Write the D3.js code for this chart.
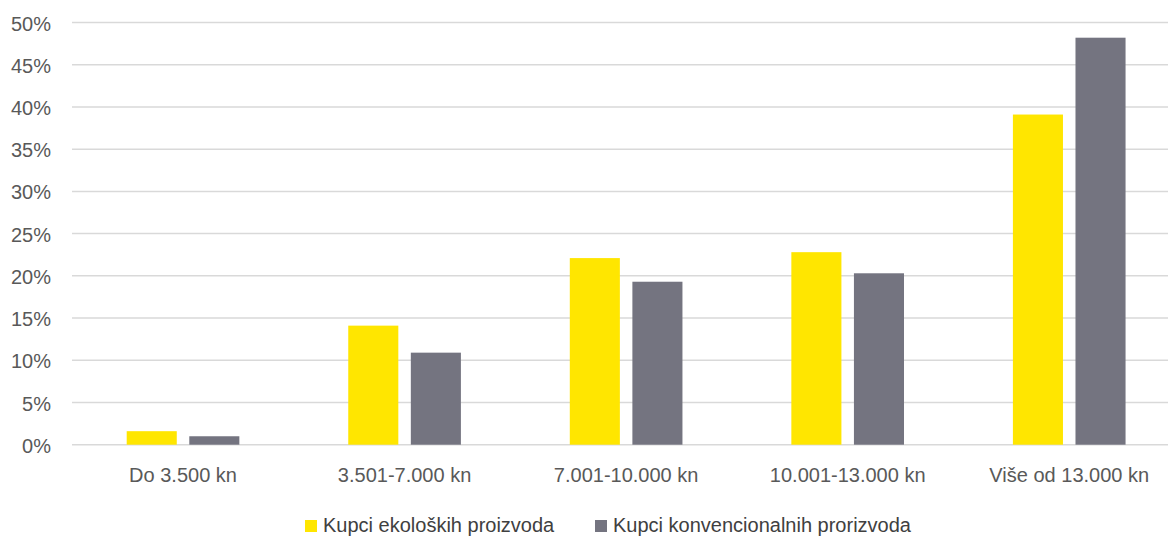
<!DOCTYPE html>
<html>
<head>
<meta charset="utf-8">
<script src="https://cdn.jsdelivr.net/npm/d3@7"></script>
<style>
  html, body { margin: 0; padding: 0; background: #ffffff; }
  svg { display: block; }
</style>
</head>
<body>
<svg id="chart" width="1168" height="536"></svg>
<script>
const categories = ["Do 3.500 kn", "3.501-7.000 kn", "7.001-10.000 kn", "10.001-13.000 kn", "Više od 13.000 kn"];
const seriesNames = ["Kupci ekoloških proizvoda", "Kupci konvencionalnih prorizvoda"];
const ekoloski = [0.016, 0.141, 0.221, 0.228, 0.391];
const konvencionalni = [0.010, 0.109, 0.193, 0.203, 0.482];
const yTicks = [0, 0.05, 0.10, 0.15, 0.20, 0.25, 0.30, 0.35, 0.40, 0.45, 0.50];
const colors = ["#FFE600", "#747480"];

const svg = d3.select("#chart");
const font = "'Liberation Sans', Arial, sans-serif";

const x0 = d3.scaleBand().domain(categories).range([72.25, 1180]).padding(0);
const x1 = d3.scaleBand().domain(seriesNames).range([0, x0.bandwidth()]).paddingInner(0.2).paddingOuter(0.87);
const y = d3.scaleLinear().domain([0, 0.5]).range([444.7, 22.5]);

// gridlines
svg.append("g").selectAll("line").data(yTicks).join("line")
  .attr("x1", 72).attr("x2", 1168)
  .attr("y1", d => y(d)).attr("y2", d => y(d))
  .attr("stroke", "#d9d9d9").attr("stroke-width", 1.5);

// y axis labels
const yAxis = d3.axisLeft(y).tickValues(yTicks).tickFormat(d3.format(".0%")).tickSize(0).tickPadding(0);
const yg = svg.append("g").attr("transform", "translate(51,0)").call(yAxis);
yg.select(".domain").remove();
yg.selectAll("text").attr("font-family", font).attr("font-size", 20).attr("fill", "#595959").attr("dy", "0.38em");

// bars
const data = categories.map((c, i) => ({ cat: c, vals: [ekoloski[i], konvencionalni[i]] }));
const groups = svg.append("g").selectAll("g").data(data).join("g")
  .attr("transform", d => `translate(${x0(d.cat)},0)`);
groups.selectAll("rect").data(d => d.vals.map((v, j) => ({ s: seriesNames[j], v, j }))).join("rect")
  .attr("x", d => x1(d.s))
  .attr("width", x1.bandwidth())
  .attr("y", d => y(d.v))
  .attr("height", d => y(0) - y(d.v))
  .attr("fill", d => colors[d.j]);

// x axis labels
const xAxis = d3.axisBottom(x0).tickSize(0).tickPadding(0);
const xg = svg.append("g").attr("transform", "translate(0,0)").call(xAxis);
xg.select(".domain").remove();
xg.selectAll("text").attr("font-family", font).attr("font-size", 20).attr("fill", "#595959")
  .attr("y", 482.3).attr("dy", 0);

// legend
const legendX = [305, 595];
const leg = svg.append("g").selectAll("g").data(seriesNames).join("g")
  .attr("transform", (d, i) => `translate(${legendX[i]},0)`);
leg.append("rect").attr("x", 0).attr("y", 520).attr("width", 12).attr("height", 12)
  .attr("fill", (d, i) => colors[i]);
leg.append("text").attr("x", 18).attr("y", 532).text(d => d)
  .attr("font-family", font).attr("font-size", 20).attr("fill", "#404040");
</script>
</body>
</html>
